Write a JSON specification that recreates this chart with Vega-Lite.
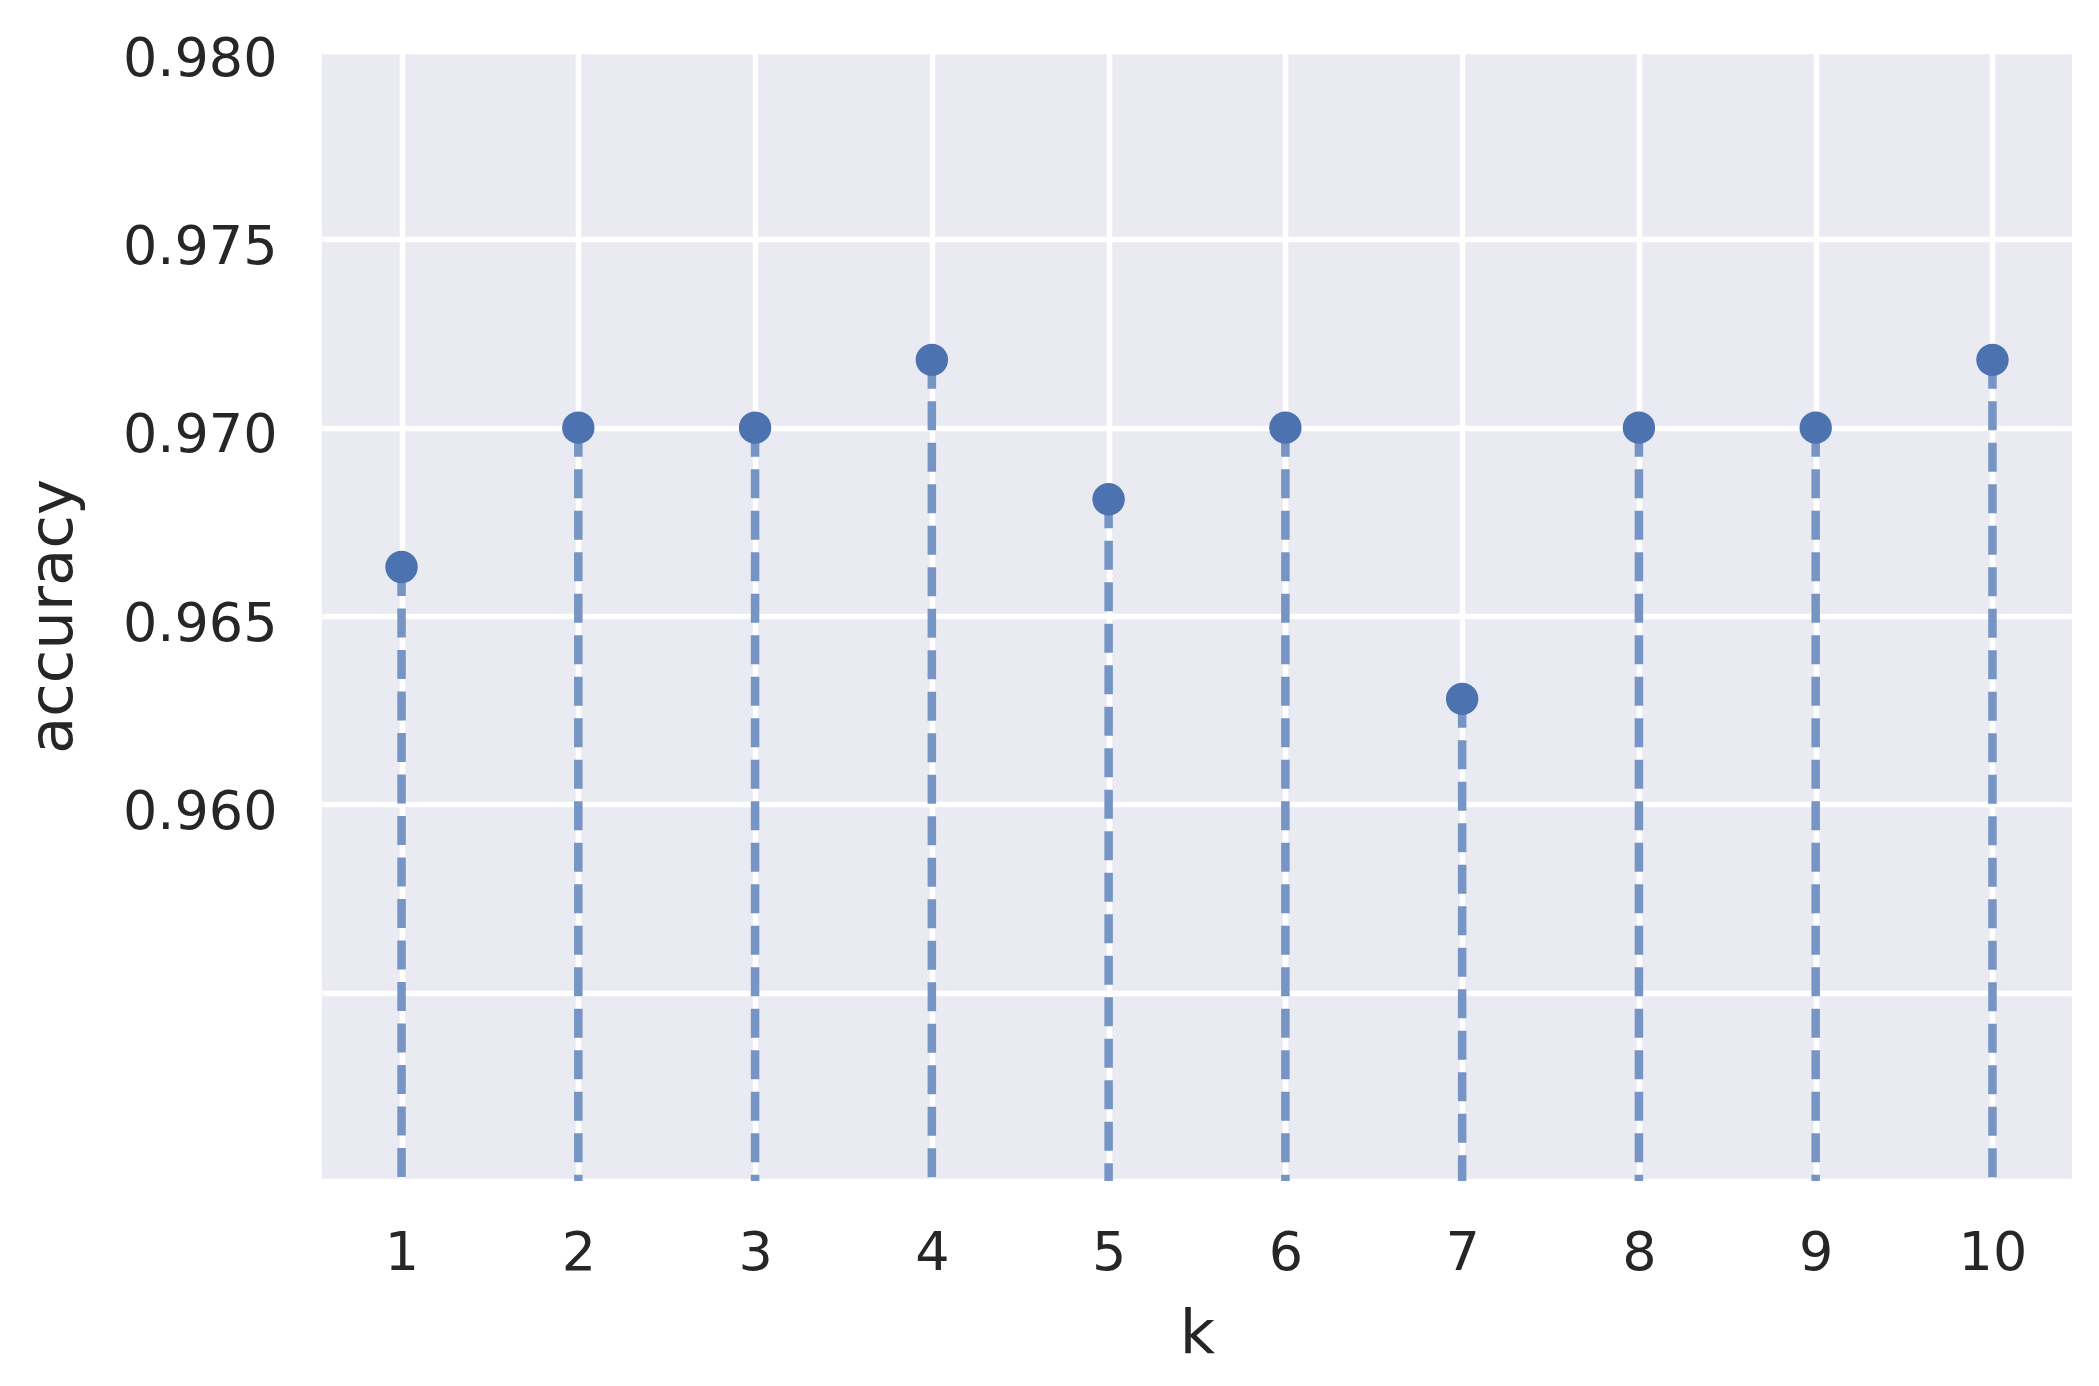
{
  "$schema": "https://vega.github.io/schema/vega-lite/v6.json",
  "width": 1750,
  "height": 1130,
  "autosize": {"type": "none"},
  "padding": {"left": 322, "top": 51, "right": 27, "bottom": 205},
  "background": "#ffffff",
  "config": {
    "view": {"fill": "#eaeaf2", "stroke": null},
    "font": "DejaVu Sans",
    "axis": {
      "domain": false,
      "ticks": false,
      "tickSize": 0,
      "grid": true,
      "gridColor": "#ffffff",
      "gridWidth": 5.5,
      "labelFont": "DejaVu Sans",
      "labelFontSize": 54,
      "labelColor": "#262626",
      "titleFont": "DejaVu Sans",
      "titleFontSize": 61,
      "titleFontWeight": "normal",
      "titleColor": "#262626"
    }
  },
  "data": {
    "values": [
      {"k": 1, "accuracy": 0.9663},
      {"k": 2, "accuracy": 0.9700},
      {"k": 3, "accuracy": 0.9700},
      {"k": 4, "accuracy": 0.9718},
      {"k": 5, "accuracy": 0.9681},
      {"k": 6, "accuracy": 0.9700},
      {"k": 7, "accuracy": 0.9628},
      {"k": 8, "accuracy": 0.9700},
      {"k": 9, "accuracy": 0.9700},
      {"k": 10, "accuracy": 0.9718}
    ]
  },
  "encoding": {
    "x": {
      "field": "k",
      "type": "quantitative",
      "scale": {"domain": [0.55, 10.45], "nice": false, "zero": false},
      "axis": {
        "values": [1, 2, 3, 4, 5, 6, 7, 8, 9, 10],
        "format": "d",
        "labelPadding": 45,
        "title": "k",
        "titlePadding": 24,
        "labelFlush": false
      }
    }
  },
  "layer": [
    {
      "mark": {"type": "rule", "color": "#7694c4", "strokeWidth": 8.5, "strokeDash": [29, 12.5]},
      "encoding": {
        "y": {
          "field": "accuracy",
          "type": "quantitative",
          "scale": {"domain": [0.95, 0.98], "nice": false, "zero": false},
          "axis": {
            "values": [0.95, 0.955, 0.96, 0.965, 0.97, 0.975, 0.98],
            "labelExpr": "datum.value < 0.9575 ? '' : format(datum.value, '.3f')",
            "labelPadding": 45,
            "labelOffset": 8,
            "title": "accuracy",
            "titlePadding": 38,
            "labelFlush": false
          }
        },
        "y2": {"datum": 0.95}
      }
    },
    {
      "mark": {"type": "point", "filled": true, "shape": "circle", "color": "#4c72b0", "opacity": 1, "size": 1050},
      "encoding": {
        "y": {"field": "accuracy", "type": "quantitative"}
      }
    }
  ]
}
